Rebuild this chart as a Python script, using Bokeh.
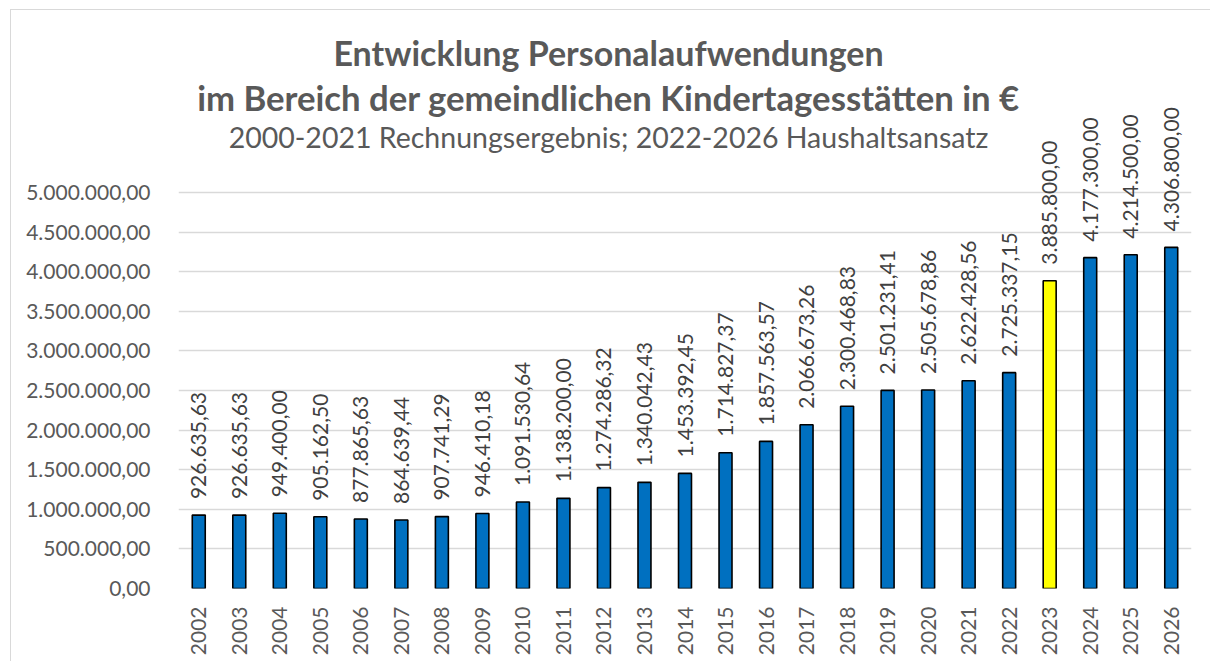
from bokeh.plotting import figure
from bokeh.models import Range1d, FixedTicker, ColumnDataSource, Label
from bokeh.core.properties import value
from bokeh.embed import file_html
from bokeh.resources import INLINE
import math

years = ["2002", "2003", "2004", "2005", "2006", "2007", "2008", "2009", "2010",
         "2011", "2012", "2013", "2014", "2015", "2016", "2017", "2018", "2019",
         "2020", "2021", "2022", "2023", "2024", "2025", "2026"]
amounts = [926635.63, 926635.63, 949400.00, 905162.50, 877865.63, 864639.44,
           907741.29, 946410.18, 1091530.64, 1138200.00, 1274286.32, 1340042.43,
           1453392.45, 1714827.37, 1857563.57, 2066673.26, 2300468.83, 2501231.41,
           2505678.86, 2622428.56, 2725337.15, 3885800.00, 4177300.00, 4214500.00,
           4306800.00]
highlight_year = "2023"
y_ticks = [0, 500000, 1000000, 1500000, 2000000, 2500000, 3000000, 3500000,
           4000000, 4500000, 5000000]

title_line1 = "Entwicklung Personalaufwendungen"
title_line2 = "im Bereich der gemeindlichen Kindertagesstätten in €"
subtitle = "2000-2021 Rechnungsergebnis; 2022-2026 Haushaltsansatz"


def de_format(v):
    s = f"{v:,.2f}"
    return s.replace(",", "X").replace(".", ",").replace("X", ".")


FONT = "Lato"
TXT = "#595959"

# page origin of the figure canvas (after the 1px border)
OX, OY = 11, 10
W, H = 1200, 652
# desired frame position on page
F_LEFT, F_RIGHT, F_TOP, F_BOTTOM = 178, 1191, 20, 588
frame_left = F_LEFT - OX
frame_right = W - (F_RIGHT - OX)
frame_top = F_TOP - OY
frame_bottom_margin = H - (F_BOTTOM - OY)
frame_h = F_BOTTOM - F_TOP
px_per_unit = 396.0 / 5000000.0
ymax = frame_h / px_per_unit
n = len(years)
px_per_cat = (F_RIGHT - F_LEFT) / n

xs = list(range(n))
colors = ["#FFFF00" if y == highlight_year else "#0070C0" for y in years]
labels = [de_format(v) for v in amounts]
src = ColumnDataSource(dict(x=xs, top=amounts, color=colors, label=labels))

p = figure(width=W, height=H, output_backend="svg", toolbar_location=None,
           x_range=Range1d(-0.5, n - 0.5), y_range=Range1d(0, ymax),
           min_border_left=frame_left, min_border_right=frame_right,
           min_border_top=frame_top, min_border_bottom=frame_bottom_margin,
           margin=(OY - 1, 0, 0, OX - 1),
           styles={"border-left": "1px solid #d9d9d9", "border-top": "1px solid #d9d9d9"})
p.outline_line_color = None
p.background_fill_color = "white"
p.border_fill_color = "white"

p.vbar(x="x", top="top", width=0.32, bottom=0, source=src,
       fill_color="color", line_color="black", line_width=1.6)

p.text(x="x", y="top", text="label", source=src, angle=math.pi / 2,
       text_align="left", text_baseline="middle", y_offset=-16,
       text_font=value(FONT), text_font_size="21px", text_color="#404040")

# axes
p.xaxis.ticker = FixedTicker(ticks=xs)
p.xaxis.major_label_overrides = {i: y for i, y in enumerate(years)}
p.xaxis.major_label_orientation = math.pi / 2
p.xaxis.major_label_standoff = 12
p.yaxis.ticker = FixedTicker(ticks=y_ticks)
p.yaxis.major_label_overrides = {t: de_format(t) for t in y_ticks}
p.yaxis.major_label_standoff = 22
for ax in (p.xaxis[0], p.yaxis[0]):
    ax.axis_line_color = None
    ax.major_tick_line_color = None
    ax.minor_tick_line_color = None
    ax.major_label_text_font = FONT
    ax.major_label_text_font_size = "21px"
    ax.major_label_text_color = TXT

p.xgrid.visible = False
p.ygrid.grid_line_color = "#d9d9d9"
p.ygrid.grid_line_width = 1.5

# titles (centered over the whole chart area), positions in page pixels
title_px = 608.0
tx = -0.5 + (title_px - F_LEFT) / px_per_cat


def y_at(py):
    return (F_BOTTOM - py) / px_per_unit


p.add_layout(Label(x=tx, y=y_at(52), text=title_line1, text_align="center",
                   text_baseline="alphabetic", text_font=FONT, text_font_size="34px",
                   text_font_style="bold", text_color=TXT))
p.add_layout(Label(x=tx, y=y_at(97), text=title_line2, text_align="center",
                   text_baseline="alphabetic", text_font=FONT, text_font_size="34.7px",
                   text_font_style="bold", text_color=TXT))
p.add_layout(Label(x=tx, y=y_at(136), text=subtitle, text_align="center",
                   text_baseline="alphabetic", text_font=FONT, text_font_size="28.5px",
                   text_color=TXT))

open("out.html", "w").write(file_html(p, INLINE))
